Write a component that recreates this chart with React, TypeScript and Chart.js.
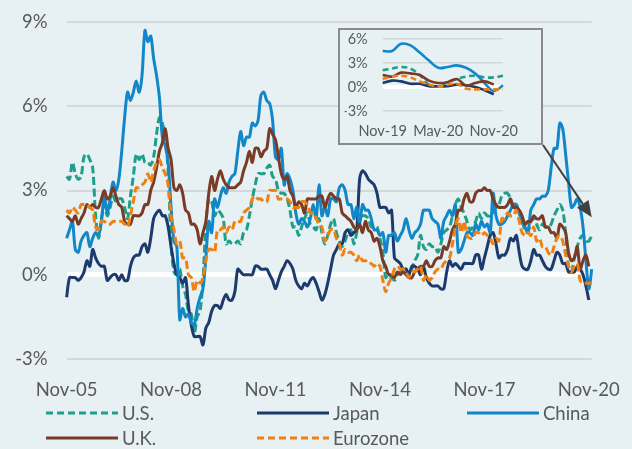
import React, { useEffect, useRef } from "react";
import { Chart, registerables } from "chart.js";

Chart.register(...registerables);

// ---------- DATA ----------
const MONTH_NAMES = ["Jan", "Feb", "Mar", "Apr", "May", "Jun", "Jul", "Aug", "Sep", "Oct", "Nov", "Dec"];
const categories: string[] = [];
for (let y = 2005; y <= 2020; y++) {
  for (let m = 0; m < 12; m++) {
    if (y === 2005 && m < 10) continue;
    categories.push(`${MONTH_NAMES[m]}-${String(y % 100).padStart(2, "0")}`);
  }
}

const xTickLabels = ["Nov-05", "Nov-08", "Nov-11", "Nov-14", "Nov-17", "Nov-20"];
const insetTickLabels = ["Nov-19", "May-20", "Nov-20"];
const insetMonths = 14; // Nov-19 .. Dec-20

const usValues = [
  3.5, 3.4,
  4.0, 3.6, 3.4, 3.5, 4.2, 4.3, 4.1, 3.8, 2.1, 1.3, 2.0, 2.5,
  2.1, 2.4, 2.8, 2.6, 2.7, 2.7, 2.4, 2.0, 2.8, 3.5, 4.3, 4.1,
  4.3, 4.0, 4.0, 3.9, 4.2, 5.0, 5.6, 5.4, 4.9, 3.7, 1.1, 0.1,
  0.0, 0.2, -0.4, -0.7, -1.3, -1.4, -2.1, -1.5, -1.3, -0.2, 1.8, 2.7,
  2.6, 2.1, 2.3, 2.2, 2.0, 1.1, 1.2, 1.1, 1.1, 1.2, 1.1, 1.5,
  1.6, 2.1, 2.7, 3.2, 3.6, 3.6, 3.6, 3.8, 3.9, 3.5, 3.4, 3.0,
  2.9, 2.9, 2.7, 2.3, 1.7, 1.7, 1.4, 1.7, 2.0, 2.2, 1.8, 1.7,
  1.6, 2.0, 1.5, 1.1, 1.4, 1.8, 2.0, 1.5, 1.2, 1.0, 1.2, 1.5,
  1.6, 1.1, 1.5, 2.0, 2.1, 2.1, 2.0, 1.7, 1.7, 1.7, 1.3, 0.8,
  -0.1, 0.0, -0.1, -0.2, 0.0, 0.1, 0.2, 0.2, 0.0, 0.2, 0.5, 0.7,
  1.4, 1.0, 0.9, 1.1, 1.0, 1.0, 0.8, 1.1, 1.5, 1.6, 1.7, 2.1,
  2.5, 2.7, 2.4, 2.2, 1.9, 1.6, 1.7, 1.9, 2.2, 2.0, 2.2, 2.1,
  2.1, 2.2, 2.4, 2.5, 2.8, 2.9, 2.9, 2.7, 2.3, 2.5, 2.2, 1.9,
  1.6, 1.5, 1.9, 2.0, 1.8, 1.6, 1.8, 1.7, 1.7, 1.8, 2.1, 2.3,
  2.5, 2.3, 1.5, 0.3, 0.1, 0.6, 1.0, 1.3, 1.4, 1.2, 1.2, 1.4,
];

const japanValues = [
  -0.8, -0.1,
  -0.1, -0.1, -0.2, -0.1, 0.1, 0.5, 0.3, 0.9, 0.6, 0.4, 0.3, 0.3,
  -0.2, -0.1, 0.0, 0.0, -0.2, 0.0, -0.2, -0.2, 0.3, 0.6, 0.7, 0.7,
  1.0, 1.1, 0.8, 1.3, 2.0, 2.2, 2.3, 2.1, 2.1, 1.7, 1.0, 0.4,
  0.0, -0.1, -0.3, -0.1, -1.1, -1.8, -2.2, -2.2, -2.2, -2.5, -1.9, -1.7,
  -1.3, -1.1, -1.1, -1.2, -0.9, -0.7, -0.9, -0.9, -0.6, 0.2, 0.1, 0.0,
  0.0, 0.0, 0.0, 0.3, 0.3, 0.2, 0.2, 0.2, 0.0, -0.2, -0.5, -0.2,
  0.1, 0.3, 0.5, 0.4, 0.2, -0.2, -0.4, -0.5, -0.3, -0.4, -0.2, -0.1,
  -0.3, -0.6, -0.9, -0.7, -0.3, 0.2, 0.7, 0.9, 1.1, 1.1, 1.5, 1.6,
  1.4, 1.5, 1.6, 3.4, 3.7, 3.6, 3.4, 3.3, 3.2, 2.9, 2.4, 2.4,
  2.4, 2.2, 2.3, 0.6, 0.5, 0.4, 0.2, 0.2, 0.0, 0.3, 0.3, 0.2,
  0.0, 0.3, -0.1, -0.3, -0.4, -0.4, -0.4, -0.5, -0.5, 0.1, 0.5, 0.3,
  0.4, 0.3, 0.2, 0.4, 0.4, 0.4, 0.4, 0.7, 0.7, 0.2, 0.6, 1.0,
  1.4, 1.5, 1.1, 0.6, 0.7, 0.7, 0.9, 1.3, 1.2, 1.4, 0.8, 0.3,
  0.2, 0.2, 0.5, 0.9, 0.7, 0.7, 0.5, 0.3, 0.2, 0.2, 0.5, 0.8,
  0.7, 0.4, 0.4, 0.1, 0.1, 0.1, 0.3, 0.2, 0.0, -0.4, -0.9, null,
];

const chinaValues = [
  1.3, 1.6,
  1.9, 0.9, 0.8, 1.2, 1.4, 1.5, 1.0, 1.3, 1.5, 1.4, 1.9, 2.8,
  2.2, 2.7, 3.3, 3.0, 3.4, 4.4, 5.6, 6.5, 6.2, 6.5, 6.9, 6.5,
  7.1, 8.7, 8.3, 8.5, 7.7, 7.1, 6.3, 4.9, 4.6, 4.0, 2.4, 1.2,
  1.0, -1.6, -1.2, -1.5, -1.4, -1.7, -1.8, -1.2, -0.8, -0.5, 0.6, 1.9,
  1.5, 2.7, 2.4, 2.8, 3.1, 2.9, 3.3, 3.5, 3.6, 4.4, 5.1, 4.6,
  4.9, 4.9, 5.4, 5.3, 5.5, 6.4, 6.5, 6.2, 6.1, 5.5, 4.2, 4.1,
  4.5, 3.2, 3.6, 3.4, 3.0, 2.2, 1.8, 2.0, 1.9, 1.7, 2.0, 2.5,
  2.0, 3.2, 2.1, 2.4, 2.1, 2.7, 2.7, 2.6, 3.1, 3.2, 3.0, 2.5,
  2.5, 2.0, 2.4, 1.8, 2.5, 2.3, 2.3, 2.0, 1.6, 1.6, 1.4, 1.5,
  0.8, 1.4, 1.4, 1.5, 1.2, 1.4, 1.6, 2.0, 1.6, 1.3, 1.5, 1.6,
  1.8, 2.3, 2.3, 2.3, 2.0, 1.9, 1.8, 1.3, 1.9, 2.1, 2.3, 2.1,
  2.5, 0.8, 0.9, 1.2, 1.5, 1.5, 1.4, 1.8, 1.6, 1.9, 1.7, 1.8,
  1.5, 2.9, 2.1, 1.8, 1.8, 1.9, 2.1, 2.3, 2.5, 2.5, 2.2, 1.9,
  1.7, 1.5, 2.3, 2.5, 2.7, 2.7, 2.8, 2.8, 3.0, 3.8, 4.5, 4.5,
  5.4, 5.2, 4.3, 3.3, 2.4, 2.5, 2.7, 2.4, 1.7, 0.5, -0.5, 0.2,
];

const ukValues = [
  2.1, 2.0,
  1.9, 2.1, 1.8, 2.0, 2.2, 2.5, 2.4, 2.5, 2.4, 2.4, 2.7, 3.0,
  2.7, 2.8, 3.1, 2.8, 2.5, 2.4, 1.9, 1.8, 1.8, 2.1, 2.1, 2.1,
  2.2, 2.5, 2.5, 3.0, 3.3, 3.8, 4.4, 4.7, 5.2, 4.5, 4.1, 3.1,
  3.0, 3.2, 2.9, 2.3, 2.2, 1.8, 1.8, 1.6, 1.1, 1.5, 1.9, 2.9,
  3.5, 3.0, 3.4, 3.7, 3.4, 3.2, 3.1, 3.1, 3.1, 3.2, 3.3, 3.7,
  4.0, 4.4, 4.0, 4.5, 4.5, 4.2, 4.4, 4.5, 5.2, 5.0, 4.8, 4.2,
  3.6, 3.4, 3.5, 3.0, 2.8, 2.4, 2.6, 2.5, 2.2, 2.7, 2.7, 2.7,
  2.7, 2.8, 2.8, 2.4, 2.7, 2.9, 2.8, 2.7, 2.7, 2.2, 2.1, 2.0,
  1.9, 1.7, 1.6, 1.8, 1.5, 1.9, 1.6, 1.5, 1.2, 1.3, 1.0, 0.5,
  0.3, 0.0, 0.0, -0.1, 0.1, 0.0, 0.1, 0.0, -0.1, -0.1, 0.1, 0.2,
  0.3, 0.3, 0.5, 0.3, 0.3, 0.5, 0.6, 0.6, 1.0, 0.9, 1.2, 1.6,
  1.8, 2.3, 2.3, 2.7, 2.9, 2.6, 2.6, 2.9, 3.0, 3.0, 3.1, 3.0,
  3.0, 2.7, 2.5, 2.4, 2.4, 2.4, 2.5, 2.7, 2.4, 2.4, 2.3, 2.1,
  1.8, 1.9, 1.9, 2.1, 2.0, 2.0, 2.1, 1.7, 1.7, 1.5, 1.5, 1.3,
  1.8, 1.7, 1.5, 0.8, 0.5, 0.6, 1.0, 0.2, 0.5, 0.7, 0.3, null,
];

const eurozoneValues = [
  2.3, 2.2,
  2.4, 2.3, 2.2, 2.5, 2.5, 2.5, 2.4, 2.3, 1.7, 1.6, 1.9, 1.9,
  1.8, 1.8, 1.9, 1.9, 1.9, 1.9, 1.8, 1.7, 2.1, 2.6, 3.1, 3.1,
  3.2, 3.3, 3.6, 3.3, 3.7, 4.0, 4.1, 3.8, 3.6, 3.2, 2.1, 1.6,
  1.1, 1.2, 0.6, 0.6, 0.0, -0.1, -0.6, -0.2, -0.3, -0.1, 0.5, 0.9,
  0.9, 0.8, 1.6, 1.6, 1.7, 1.5, 1.7, 1.6, 1.9, 1.9, 1.9, 2.2,
  2.3, 2.4, 2.7, 2.8, 2.7, 2.7, 2.6, 2.6, 3.0, 3.0, 3.0, 2.7,
  2.7, 2.7, 2.7, 2.6, 2.4, 2.4, 2.4, 2.6, 2.6, 2.5, 2.2, 2.2,
  2.0, 1.8, 1.7, 1.2, 1.4, 1.6, 1.6, 1.3, 1.1, 0.7, 0.9, 0.8,
  0.8, 0.7, 0.5, 0.7, 0.5, 0.5, 0.4, 0.4, 0.3, 0.4, 0.3, -0.2,
  -0.6, -0.3, -0.1, 0.2, 0.3, 0.2, 0.2, 0.1, -0.1, 0.1, 0.1, 0.2,
  0.3, -0.2, 0.0, -0.2, -0.1, 0.1, 0.2, 0.2, 0.4, 0.5, 0.6, 1.1,
  1.7, 2.0, 1.5, 1.9, 1.4, 1.3, 1.3, 1.5, 1.5, 1.4, 1.5, 1.4,
  1.3, 1.1, 1.3, 1.2, 2.0, 2.0, 2.2, 2.1, 2.1, 2.3, 1.9, 1.5,
  1.4, 1.5, 1.4, 1.7, 1.2, 1.3, 1.0, 1.0, 0.8, 0.7, 1.0, 1.3,
  1.4, 1.2, 0.7, 0.3, 0.1, 0.3, 0.4, -0.2, -0.3, -0.3, -0.3, -0.3,
];

const seriesNames = ["U.S.", "Japan", "China", "U.K.", "Eurozone"];
const seriesValues = [usValues, japanValues, chinaValues, ukValues, eurozoneValues];
const seriesColors = ["#1f9e89", "#1c3a6c", "#1187c9", "#7a3b26", "#f0800f"];
const seriesDashed = [true, false, false, false, true];

// ---------- STYLE ----------
const BG = "#e7f0f3";
const TEXT = "#595959";
const GRID = "#d5d8da";
const FONT = "Lato, 'Open Sans', sans-serif";

const legendCols = [46, 257, 467];
const legendRows = [413, 438];

function buildDatasets(values: (number | null)[][], width: number, dash: number[], tension: number) {
  return values.map((vals, i) => ({
    label: seriesNames[i],
    data: vals,
    borderColor: seriesColors[i],
    backgroundColor: seriesColors[i],
    borderWidth: width,
    borderDash: seriesDashed[i] ? dash : [],
    pointRadius: 0,
    pointHoverRadius: 0,
    tension,
    fill: false,
    spanGaps: false,
    order: seriesNames.length - i,
  }));
}

const arrowPlugin = {
  id: "insetArrow",
  afterDraw(chart: any) {
    const ctx = chart.ctx;
    const xs = chart.scales.x;
    const ys = chart.scales.y;
    const x0 = 543;
    const y0 = 145;
    const x1 = xs.getPixelForValue(categories.length - 1);
    const y1 = ys.getPixelForValue(2.05);
    const dx = x1 - x0;
    const dy = y1 - y0;
    const len = Math.sqrt(dx * dx + dy * dy);
    const ux = dx / len;
    const uy = dy / len;
    const headLen = 16;
    const halfW = 7;
    const bx = x1 - ux * headLen;
    const by = y1 - uy * headLen;
    ctx.save();
    ctx.strokeStyle = "#404040";
    ctx.fillStyle = "#404040";
    ctx.lineWidth = 2;
    ctx.beginPath();
    ctx.moveTo(x0, y0);
    ctx.lineTo(bx, by);
    ctx.stroke();
    ctx.beginPath();
    ctx.moveTo(x1, y1);
    ctx.lineTo(bx - uy * halfW, by + ux * halfW);
    ctx.lineTo(bx + uy * halfW, by - ux * halfW);
    ctx.closePath();
    ctx.fill();
    ctx.restore();
  },
};

export default function App() {
  const mainRef = useRef<HTMLCanvasElement | null>(null);
  const insetRef = useRef<HTMLCanvasElement | null>(null);

  useEffect(() => {
    if (!mainRef.current || !insetRef.current) return;

    const main = new Chart(mainRef.current, {
      type: "line",
      data: {
        labels: categories,
        datasets: buildDatasets(seriesValues, 3, [8, 3.5], 0.3) as any,
      },
      options: {
        animation: false,
        responsive: false,
        devicePixelRatio: 1,
        events: [],
        layout: { padding: { left: 8, right: 35, top: 22, bottom: 50 } },
        plugins: { legend: { display: false }, tooltip: { enabled: false } },
        scales: {
          x: {
            type: "category",
            offset: false,
            grid: { display: false },
            border: { display: false },
            ticks: {
              autoSkip: false,
              maxRotation: 0,
              minRotation: 0,
              padding: 12,
              color: TEXT,
              font: { family: FONT, size: 18.5 },
              callback: (_v: any, i: number) => (xTickLabels.includes(categories[i]) ? categories[i] : null),
            },
            afterFit: (s: any) => {
              s.height = 40;
            },
          },
          y: {
            min: -3,
            max: 9,
            border: { display: false },
            grid: {
              drawTicks: true,
              tickLength: 19,
              tickColor: "rgba(0,0,0,0)",
              color: (c: any) => (c.tick && c.tick.value === 0 ? "#ffffff" : GRID),
              lineWidth: (c: any) => (c.tick && c.tick.value === 0 ? 5 : 2),
            },
            ticks: {
              stepSize: 3,
              autoSkip: false,
              padding: 0,
              color: TEXT,
              font: { family: FONT, size: 18.5 },
              callback: (v: any) => `${v}%`,
            },
            afterFit: (s: any) => {
              s.width = 58.6;
            },
          },
        },
      },
      plugins: [arrowPlugin],
    });

    const insetLabels = categories.slice(-insetMonths);
    const inset = new Chart(insetRef.current, {
      type: "line",
      data: {
        labels: insetLabels,
        datasets: buildDatasets(
          seriesValues.map((v) => v.slice(-insetMonths)),
          2.6,
          [6, 3.5],
          0.4
        ) as any,
      },
      options: {
        animation: false,
        responsive: false,
        devicePixelRatio: 1,
        events: [],
        layout: { padding: { left: 4.7, right: 38, top: 9, bottom: 6 } },
        plugins: { legend: { display: false }, tooltip: { enabled: false } },
        scales: {
          x: {
            type: "category",
            offset: false,
            grid: { display: false },
            border: { display: false },
            ticks: {
              autoSkip: false,
              maxRotation: 0,
              minRotation: 0,
              padding: 4,
              color: TEXT,
              font: { family: FONT, size: 14.5 },
              callback: (_v: any, i: number) => (insetTickLabels.includes(insetLabels[i]) ? insetLabels[i] : null),
            },
            afterFit: (s: any) => {
              s.height = 26;
            },
          },
          y: {
            min: -3,
            max: 6,
            border: { display: false },
            grid: {
              drawTicks: true,
              tickLength: 15,
              tickColor: "rgba(0,0,0,0)",
              color: (c: any) => (c.tick && c.tick.value === 0 ? "#ffffff" : GRID),
              lineWidth: (c: any) => (c.tick && c.tick.value === 0 ? 4 : 1.5),
            },
            ticks: {
              stepSize: 3,
              autoSkip: false,
              padding: 0,
              color: TEXT,
              font: { family: FONT, size: 14.5 },
              callback: (v: any) => `${v}%`,
            },
            afterFit: (s: any) => {
              s.width = 38;
            },
          },
        },
      },
    });

    return () => {
      main.destroy();
      inset.destroy();
    };
  }, []);

  return (
    <div
      style={{
        position: "fixed",
        left: 0,
        top: 0,
        width: 632,
        height: 449,
        background: BG,
        overflow: "hidden",
        fontFamily: FONT,
      }}
    >
      <canvas ref={mainRef} width={632} height={449} style={{ position: "absolute", left: 0, top: 0 }} />
      <div
        style={{
          position: "absolute",
          left: 338,
          top: 28,
          width: 205,
          height: 117,
          boxSizing: "border-box",
          border: "2px solid #8a8a8a",
          background: BG,
        }}
      >
        <canvas ref={insetRef} width={201} height={113} style={{ display: "block" }} />
      </div>
      {seriesNames.map((name, i) => {
        const col = i % 3;
        const row = Math.floor(i / 3);
        const left = legendCols[col];
        const top = legendRows[row];
        return (
          <div
            key={name}
            style={{
              position: "absolute",
              left,
              top: top - 12,
              height: 24,
              display: "flex",
              alignItems: "center",
              whiteSpace: "nowrap",
              color: TEXT,
              fontSize: 18.5,
              lineHeight: "24px",
            }}
          >
            <svg width={72} height={6} style={{ display: "block", marginRight: 4 }}>
              <line
                x1={0}
                y1={3}
                x2={72}
                y2={3}
                stroke={seriesColors[i]}
                strokeWidth={3}
                strokeDasharray={seriesDashed[i] ? "7 4" : undefined}
              />
            </svg>
            <span>{name}</span>
          </div>
        );
      })}
    </div>
  );
}
